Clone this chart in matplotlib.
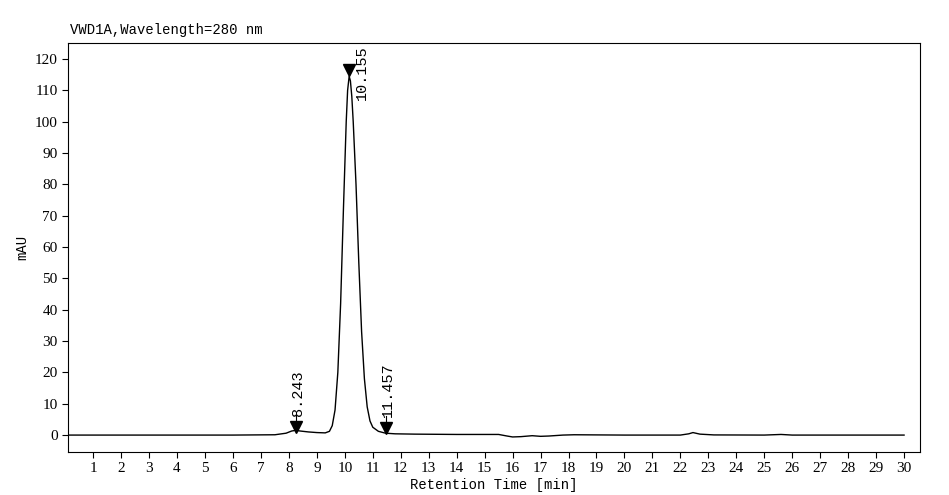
import matplotlib
matplotlib.use("Agg")
import matplotlib.pyplot as plt

time = [0.0, 2, 4, 6, 7.5, 7.9, 8.1, 8.243, 8.4, 8.7, 9.0, 9.3, 9.45, 9.55, 9.65, 9.75, 9.85, 9.95, 10.05, 10.1, 10.155,
        10.2, 10.25, 10.3, 10.4, 10.5, 10.6, 10.7, 10.8, 10.9, 11.0, 11.2, 11.457, 11.8, 12.5, 14, 15.5, 15.8,
        16.0, 16.3, 16.7, 17.0, 17.3, 17.8, 18.2, 20, 22.0, 22.3, 22.45, 22.7, 23.2, 25, 25.6, 26, 28, 30.0]
signal = [0.0, 0.0, 0.0, 0.0, 0.1, 0.6, 1.3, 1.5, 1.3, 1.0, 0.8, 0.7, 1.2, 3, 8, 20, 42, 72, 100, 110, 114.5,
          113, 108, 100, 80, 55, 33, 18, 9, 4.5, 2.5, 1.2, 0.6, 0.4, 0.3, 0.2, 0.2, -0.3,
          -0.6, -0.5, -0.2, -0.4, -0.3, 0.0, 0.1, 0.0, 0.0, 0.4, 0.8, 0.3, 0.05, 0.0, 0.2, 0.0, 0.0, 0.0]

peak_times = [8.243, 10.155, 11.457]
peak_labels = ["8.243", "10.155", "11.457"]
marker_y = [2.5, 116.5, 2.2]

xticks = list(range(1, 31))
yticks = list(range(0, 121, 10))

fig = plt.figure(figsize=(9.49, 4.95), dpi=100)
ax = fig.add_axes([68/949, 43/495, 852/949, 409/495])
ax.plot(time, signal, color="black", lw=1.0)

for t, lab, my in zip(peak_times, peak_labels, marker_y):
    ax.plot([t], [my], marker="v", color="black", ms=8)
    if lab == "10.155":
        ax.text(t + 0.45, 107, lab, rotation=90, ha="center", va="bottom",
                family="Liberation Mono", fontsize=11)
    else:
        ax.plot([t, t], [my, my + 4], color="black", lw=0.8)
        ax.text(t + 0.1, my + 3.5, lab, rotation=90, ha="center", va="bottom",
                family="Liberation Mono", fontsize=11)

ax.set_xlim(0.1, 30.57)
ax.set_ylim(-5.4, 125.1)
ax.set_xticks(xticks)
ax.set_yticks(yticks)
ax.tick_params(labelsize=11, direction="out", length=4)
for l in ax.get_xticklabels() + ax.get_yticklabels():
    l.set_family("Liberation Serif")
ax.set_xlabel("Retention Time [min]", family="Liberation Mono", fontsize=10, labelpad=2)
ax.set_ylabel("mAU", family="Liberation Mono", fontsize=10)
fig.text(70/949, 1 - 30/495, "VWD1A,Wavelength=280 nm", family="Liberation Mono", fontsize=10, va="center")
fig.savefig("out.png", dpi=100)
